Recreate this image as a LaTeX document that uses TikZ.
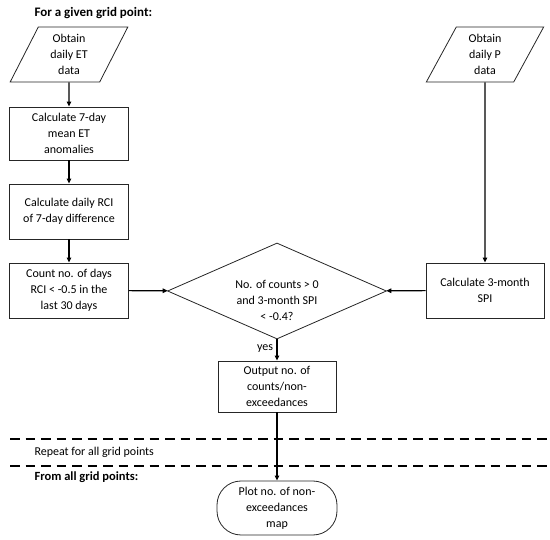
\documentclass[tikz,border=0pt]{standalone}
\usepackage{fontspec}
\setmainfont{Carlito}
\usepackage{tikz}
\usetikzlibrary{arrows.meta, positioning, calc}
\usetikzlibrary{shapes.geometric}

\begin{document}
\begin{tikzpicture}[x = 1pt, y = -1pt,
						font = \fontsize{12}{16}\selectfont,
						box/.style = {draw = black!85, line width = 0.8pt, rectangle, minimum width = 119pt, minimum height = 55pt, align = center, inner sep = 2pt},
						inbox/.style = {draw = black!85, line width = 0.8pt, trapezium, trapezium left angle = 67, trapezium right angle = 113, trapezium stretches = true, minimum width = 118pt, minimum height = 55pt, align = center, inner sep = 0pt},
						flow/.style = {-{Triangle[length = 5pt, width = 4.5pt]}, line width = 1.2pt}]
						\path [use as bounding box, draw = none] (0, 0) rectangle (550, 540);
						\node [anchor = west, font = \fontsize{13}{16}\selectfont\bfseries] (title) at (31, 13) {For a given grid point:};
						\node [inbox] (etdata) at (69, 54.5) {Obtain\\daily ET\\data};
						\node [box, minimum height = 53pt] (meanet) at (69, 133.5) {Calculate 7-day\\mean ET\\anomalies};
						\node [box] (rcidiff) at (69, 211.5) {Calculate daily RCI\\of 7-day difference};
						\node [box] (countdays) at (69, 290.5) {Count no. of days\\RCI < -0.5 in the\\last 30 days};
						\node [draw = black!85, line width = 0.8pt, diamond, aspect = 2.28, minimum width = 219pt, minimum height = 96pt, inner sep = 0pt, align = center] (decision) at (277, 291) {};
						\node [align = center] (decisiontext) at (277, 300) {No. of counts > 0\\and 3-month SPI\\< -0.4?};
						\node [inbox] (pdata) at (485, 54.5) {Obtain\\daily P\\data};
						\node [box, minimum width = 118pt] (spi) at (485, 290.5) {Calculate 3-month\\SPI};
						\node [box, minimum width = 118pt, minimum height = 51pt] (output) at (277, 386.5) {Output no. of\\counts/non-\\exceedances};
						\node [draw = black!85, line width = 0.8pt, rectangle, rounded corners = 24pt, minimum width = 120pt, minimum height = 54pt, align = center, inner sep = 0pt] (mapplot) at (277, 508) {Plot no. of non-\\exceedances\\map};
						\draw [flow] (etdata) -- (meanet);
						\draw [flow] (meanet) -- (rcidiff);
						\draw [flow] (rcidiff) -- (countdays);
						\draw [flow] (countdays) -- (decision);
						\draw [flow] (pdata) -- (spi);
						\draw [flow] (spi) -- (decision);
						\draw [flow] (decision) -- node [left, pos = 0.45] {yes} (output);
						\draw [flow] (output) -- (mapplot);
						\draw [dashed, dash pattern = on 9.5pt off 6pt, line width = 1.2pt] (10, 439) -- (548, 439);
						\draw [dashed, dash pattern = on 9.5pt off 6pt, line width = 1.2pt] (10, 466) -- (548, 466);
						\node [anchor = west] (repeat) at (31, 452) {Repeat for all grid points};
						\node [anchor = west, font = \fontsize{12.5}{16}\selectfont\bfseries] (allpoints) at (31, 477) {From all grid points:};
					\end{tikzpicture}
\end{document}
